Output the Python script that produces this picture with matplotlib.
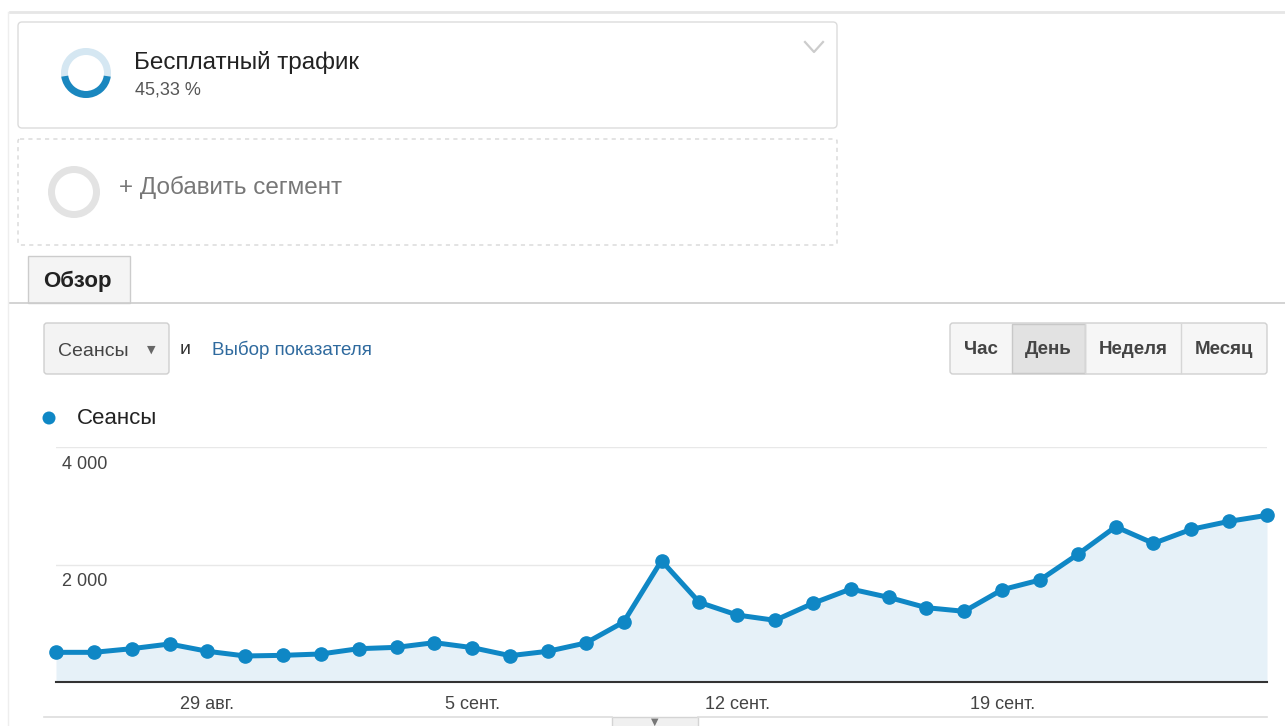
import matplotlib
matplotlib.use('Agg')
import matplotlib.pyplot as plt
from matplotlib.patches import FancyBboxPatch, Wedge, Rectangle, Circle

plt.rcParams['font.family'] = ['Liberation Sans', 'DejaVu Sans']

# ===== данные =====
days = ['25.08', '26.08', '27.08', '28.08', '29.08', '30.08', '31.08', '01.09', '02.09',
        '03.09', '04.09', '05.09', '06.09', '07.09', '08.09', '09.09', '10.09', '11.09',
        '12.09', '13.09', '14.09', '15.09', '16.09', '17.09', '18.09', '19.09', '20.09',
        '21.09', '22.09', '23.09', '24.09', '25.09', '26.09']
sessions = [505, 505, 567, 647, 523, 443, 454, 477, 567, 590, 670, 585, 448, 523, 664,
            1021, 2065, 1356, 1140, 1050, 1339, 1583, 1441, 1265, 1203, 1571, 1736, 2173,
            2643, 2360, 2599, 2735, 2837]
tick_days = ['29.08', '05.09', '12.09', '19.09']
tick_labels = ['29 авг.', '5 сент.', '12 сент.', '19 сент.']
y_ticks = [2000, 4000]
y_labels = ['2 000', '4 000']
share_pct = 45.33
buttons = ['Час', 'День', 'Неделя', 'Месяц']

W, H = 1285, 726
BLUE = '#0f87c5'
fig = plt.figure(figsize=(W / 100, H / 100), dpi=100)

# фон в пиксельных координатах
bg = fig.add_axes([0, 0, 1, 1])
bg.set_xlim(0, W)
bg.set_ylim(H, 0)
bg.axis('off')

def box(x0, y0, x1, y1, fc='white', ec='#d6d6d6', r=4, ls='-', lw=1.0):
    bg.add_patch(FancyBboxPatch((x0, y0), x1 - x0, y1 - y0,
                                boxstyle=f'round,pad=0,rounding_size={r}',
                                fc=fc, ec=ec, lw=lw, ls=ls))

# рамка страницы
bg.plot([10, W], [12, 12], color='#e6e6e6', lw=2)
bg.plot([8, 8], [12, H], color='#eeeeee', lw=1)

# ---- карточка сегмента ----
box(18, 22, 837, 128, ec='#dcdcdc')
cx, cy, rr = 86, 73, 25
bg.add_patch(Wedge((cx, cy), rr, 0, 360, width=7, fc='#d5e7f2', ec='none'))
start = 90 - 180 * share_pct / 100
bg.add_patch(Wedge((cx, cy), rr, start, start + 360 * share_pct / 100, width=7,
                   fc='#1a87bf', ec='none'))
bg.text(134, 62, 'Бесплатный трафик', fontsize=17.5, color='#222222', va='center')
bg.text(135, 90, f'{share_pct:.2f} %'.replace('.', ','), fontsize=13, color='#555555', va='center')
bg.plot([805, 814, 823], [42, 52, 42], color='#cccccc', lw=1.6)

# ---- добавить сегмент ----
box(18, 139, 837, 245, ec='#d8d8d8', ls=(0, (3, 3)), r=2)
bg.add_patch(Wedge((74, 192), 26, 0, 360, width=7, fc='#e3e3e3', ec='none'))
bg.text(119, 187, '+ Добавить сегмент', fontsize=17.5, color='#777777', va='center')

# ---- вкладка ----
bg.plot([10, W], [303, 303], color='#cccccc', lw=1.2)
bg.add_patch(Rectangle((28, 256), 102, 47, fc='#f4f4f4', ec='#cccccc', lw=1))
bg.text(77, 281, 'Обзор', fontsize=16, color='#222222', ha='center', va='center', fontweight='bold')

# ---- выбор показателя ----
box(44, 323, 169, 374, fc='#f3f3f3', ec='#cfcfcf', r=3)
bg.text(58, 351, 'Сеансы', fontsize=14, color='#444444', va='center')
bg.text(151, 350, '▼', fontsize=8, color='#666666', va='center', ha='center', family='DejaVu Sans')
bg.text(180, 349, 'и', fontsize=14, color='#333333', va='center')
bg.text(212, 350, 'Выбор показателя', fontsize=13.5, color='#2f6a9e', va='center')

# ---- кнопки периода ----
edges = [950, 1012, 1085, 1181, 1267]
box(950, 323, 1267, 374, fc='#f6f6f6', ec='#d0d0d0', r=3)
for i, name in enumerate(buttons):
    x0, x1 = edges[i], edges[i + 1]
    if name == 'День':
        bg.add_patch(Rectangle((x0, 324), x1 - x0, 49, fc='#e2e2e2', ec='#c8c8c8', lw=1))
    elif i > 0:
        bg.plot([x0, x0], [324, 373], color='#d6d6d6', lw=1)
    bg.text((x0 + x1) / 2, 350, name, fontsize=13.5, color='#444444', ha='center', va='center',
            fontweight='bold')

# ---- легенда ----
bg.add_patch(Circle((49, 418), 6.5, fc=BLUE, ec='none'))
bg.text(77, 418, 'Сеансы', fontsize=16, color='#222222', va='center')

# ---- полоса под графиком ----
bg.plot([44, 612], [717, 717], color='#dddddd', lw=1.2)
bg.plot([698, 1267], [717, 717], color='#dddddd', lw=1.2)
bg.add_patch(Rectangle((612, 717), 86, 12, fc='#f0f0f0', ec='#d4d4d4', lw=1))
bg.text(655, 722, '▼', fontsize=7, color='#777777', ha='center', va='center', family='DejaVu Sans')

# ===== график =====
x0, x1, ytop, ybot = 56, 1267, 447, 682
ax = fig.add_axes([x0 / W, 1 - ybot / H, (x1 - x0) / W, (ybot - ytop) / H])
xs = list(range(len(days)))
ax.fill_between(xs, sessions, 0, color='#e6f1f8', lw=0)
ax.plot(xs, sessions, color=BLUE, lw=3.6, marker='o', markersize=9.5, clip_on=False, zorder=5)
ax.set_xlim(0, len(days) - 1)
ax.set_ylim(0, 4000)
for v in y_ticks:
    ax.axhline(v, color='#e8e8e8', lw=1, zorder=0)
for v, lbl in zip(y_ticks, y_labels):
    ax.annotate(lbl, xy=(0, v), xycoords=('axes fraction', 'data'), xytext=(6, -9),
                textcoords='offset pixels', va='top', ha='left', fontsize=13, color='#444444')
ax.set_yticks([])
ax.set_xticks([days.index(d) for d in tick_days])
ax.set_xticklabels(tick_labels, fontsize=13, color='#444444')
ax.tick_params(axis='x', length=0, pad=10)
for s in ['top', 'left', 'right']:
    ax.spines[s].set_visible(False)
ax.spines['bottom'].set_color('#333333')
ax.spines['bottom'].set_linewidth(1.5)
ax.patch.set_alpha(0)

fig.savefig('out.png', dpi=100)
